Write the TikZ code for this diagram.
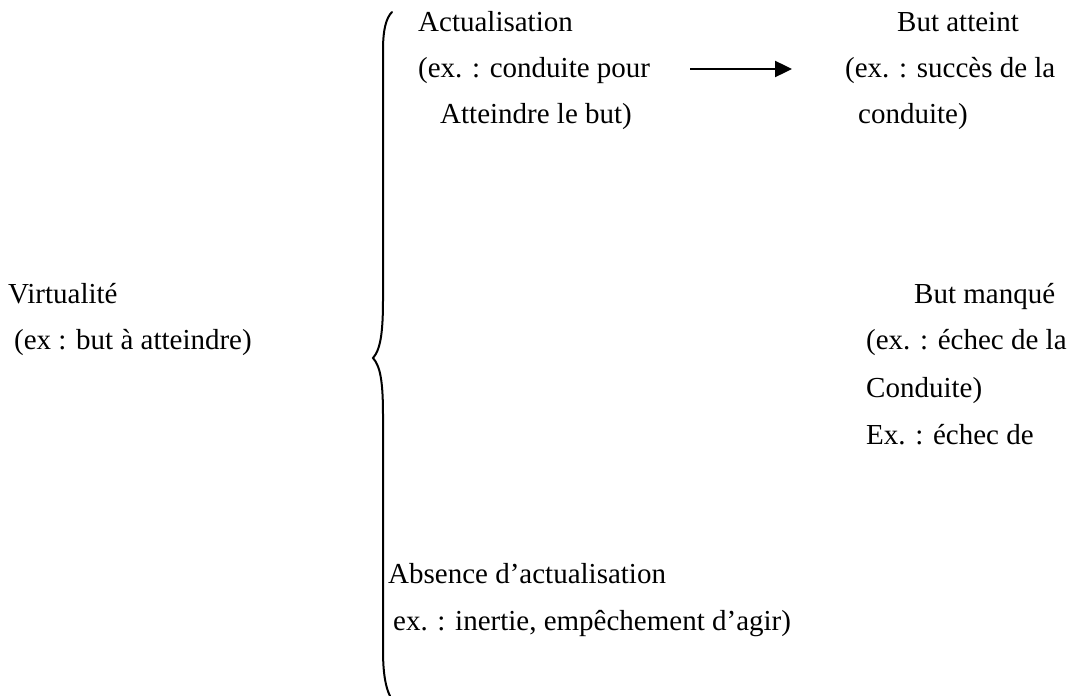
\documentclass[tikz,border=0pt]{standalone}
\usepackage{fontspec}
\setmainfont{Liberation Serif}
\usetikzlibrary{arrows.meta}
\begin{document}
\begin{tikzpicture}[x=1pt,y=-1pt,
  lbl/.style={anchor=base west,inner sep=0pt,font=\fontsize{29}{34}\selectfont},
  conn/.style={line width=2.4pt,-{Triangle[length=17pt,width=16pt]}},
  bracestyle/.style={line width=2pt,line cap=round}]
\useasboundingbox (0,0) rectangle (1069,696);
\node[lbl] (act) at (418,31) {Actualisation};
\node[lbl] (act2) at (418,77) {(ex. : conduite pour};
\node[lbl] (act3) at (440,123) {Atteindre le but)};
\node[lbl] (ba) at (897,31) {But atteint};
\node[lbl] (ba2) at (845,77) {(ex. : succès de la};
\node[lbl] (ba3) at (858,123) {conduite)};
\node[lbl] (virt) at (8,303) {Virtualité};
\node[lbl] (virt2) at (14,349) {(ex : but à atteindre)};
\node[lbl] (bm) at (914,303) {But manqué};
\node[lbl] (bm2) at (866,349) {(ex. : échec de la};
\node[lbl] (bm3) at (866,397) {Conduite)};
\node[lbl] (bm4) at (866,444) {Ex. : échec de};
\node[lbl] (abs) at (388,583) {Absence d’actualisation};
\node[lbl] (abs2) at (393,630) {ex. : inertie, empêchement d’agir)};
\coordinate (arS) at (690,69);
\coordinate (arE) at (792,69);
\draw[conn] (arS) -- (arE);
\draw[bracestyle] (392,12) .. controls (386,18) and (383,30) .. (383,50) -- (383,300)
  .. controls (383,335) and (380,350) .. (373,358)
  .. controls (380,366) and (383,380) .. (383,415) -- (383,650)
  .. controls (383,675) and (386,688) .. (390,696);
\end{tikzpicture}
\end{document}
